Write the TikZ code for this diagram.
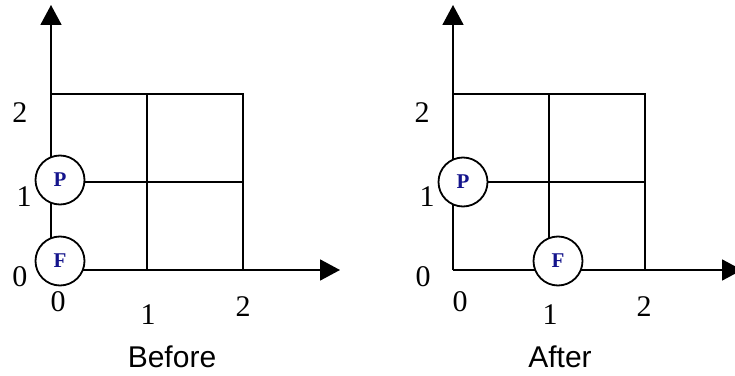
\documentclass[tikz,border=0pt]{standalone}
\usepackage{fontspec}
\setmainfont{Liberation Serif}
\setsansfont{Liberation Sans}
\usepackage{xcolor}
\definecolor{agentblue}{RGB}{20,20,140}
\usetikzlibrary{arrows.meta, positioning}

\begin{document}
\begin{tikzpicture}[
  x=1pt, y=1pt,
  axis/.style={line width=1.8pt, -{Triangle[length=20pt, width=21pt]}},
  gridline/.style={line width=1.8pt},
  agent/.style={circle, draw, line width=1.8pt, fill=white, minimum size=49pt, inner sep=0pt,
                font=\fontsize{21}{21}\selectfont\bfseries, text=agentblue},
  tick/.style={font=\fontsize{30}{30}\selectfont, inner sep=0pt},
  caption/.style={font=\sffamily\fontsize{30}{30}\selectfont, inner sep=0pt}
]
  \useasboundingbox (0,0) rectangle (735,375);

  % Before
  \coordinate (o1) at (51,105);
  \coordinate (ytip1) at (51,370);
  \coordinate (xtip1) at (340,105);
  \draw[gridline] (51,281) -| (243,105);
  \draw[gridline] (147,281) -- (147,105);
  \draw[gridline] (51,193) -- (243,193);
  \draw[axis] (o1) -- (ytip1);
  \draw[axis] (o1) -- (xtip1);
  \node[agent] (p1) at (60,195) {\raisebox{-3pt}{P}};
  \node[agent] (e1) at (60,114) {\raisebox{-3pt}{F}};
  \node[tick] (y2a) at (20,262) {2};
  \node[tick] (y1a) at (24,178) {1};
  \node[tick] (y0a) at (20,98) {0};
  \node[tick] (x0a) at (58,73) {0};
  \node[tick] (x1a) at (148,60) {1};
  \node[tick] (x2a) at (243,68) {2};
  \node[caption] (before) at (172,18) {Before};

  % After
  \coordinate (o2) at (453,105);
  \coordinate (ytip2) at (453,370);
  \coordinate (xtip2) at (742,105);
  \draw[gridline] (453,281) -| (645,105);
  \draw[gridline] (549,281) -- (549,105);
  \draw[gridline] (453,193) -- (645,193);
  \draw[axis] (o2) -- (ytip2);
  \draw[axis] (o2) -- (xtip2);
  \node[agent] (p2) at (463,193) {\raisebox{-3pt}{P}};
  \node[agent] (e2) at (558,114) {\raisebox{-3pt}{F}};
  \node[tick] (y2b) at (422,262) {2};
  \node[tick] (y1b) at (427,178) {1};
  \node[tick] (y0b) at (423,98) {0};
  \node[tick] (x0b) at (460,73) {0};
  \node[tick] (x1b) at (550,60) {1};
  \node[tick] (x2b) at (644,68) {2};
  \node[caption] (after) at (560,18) {After};
\end{tikzpicture}
\end{document}
